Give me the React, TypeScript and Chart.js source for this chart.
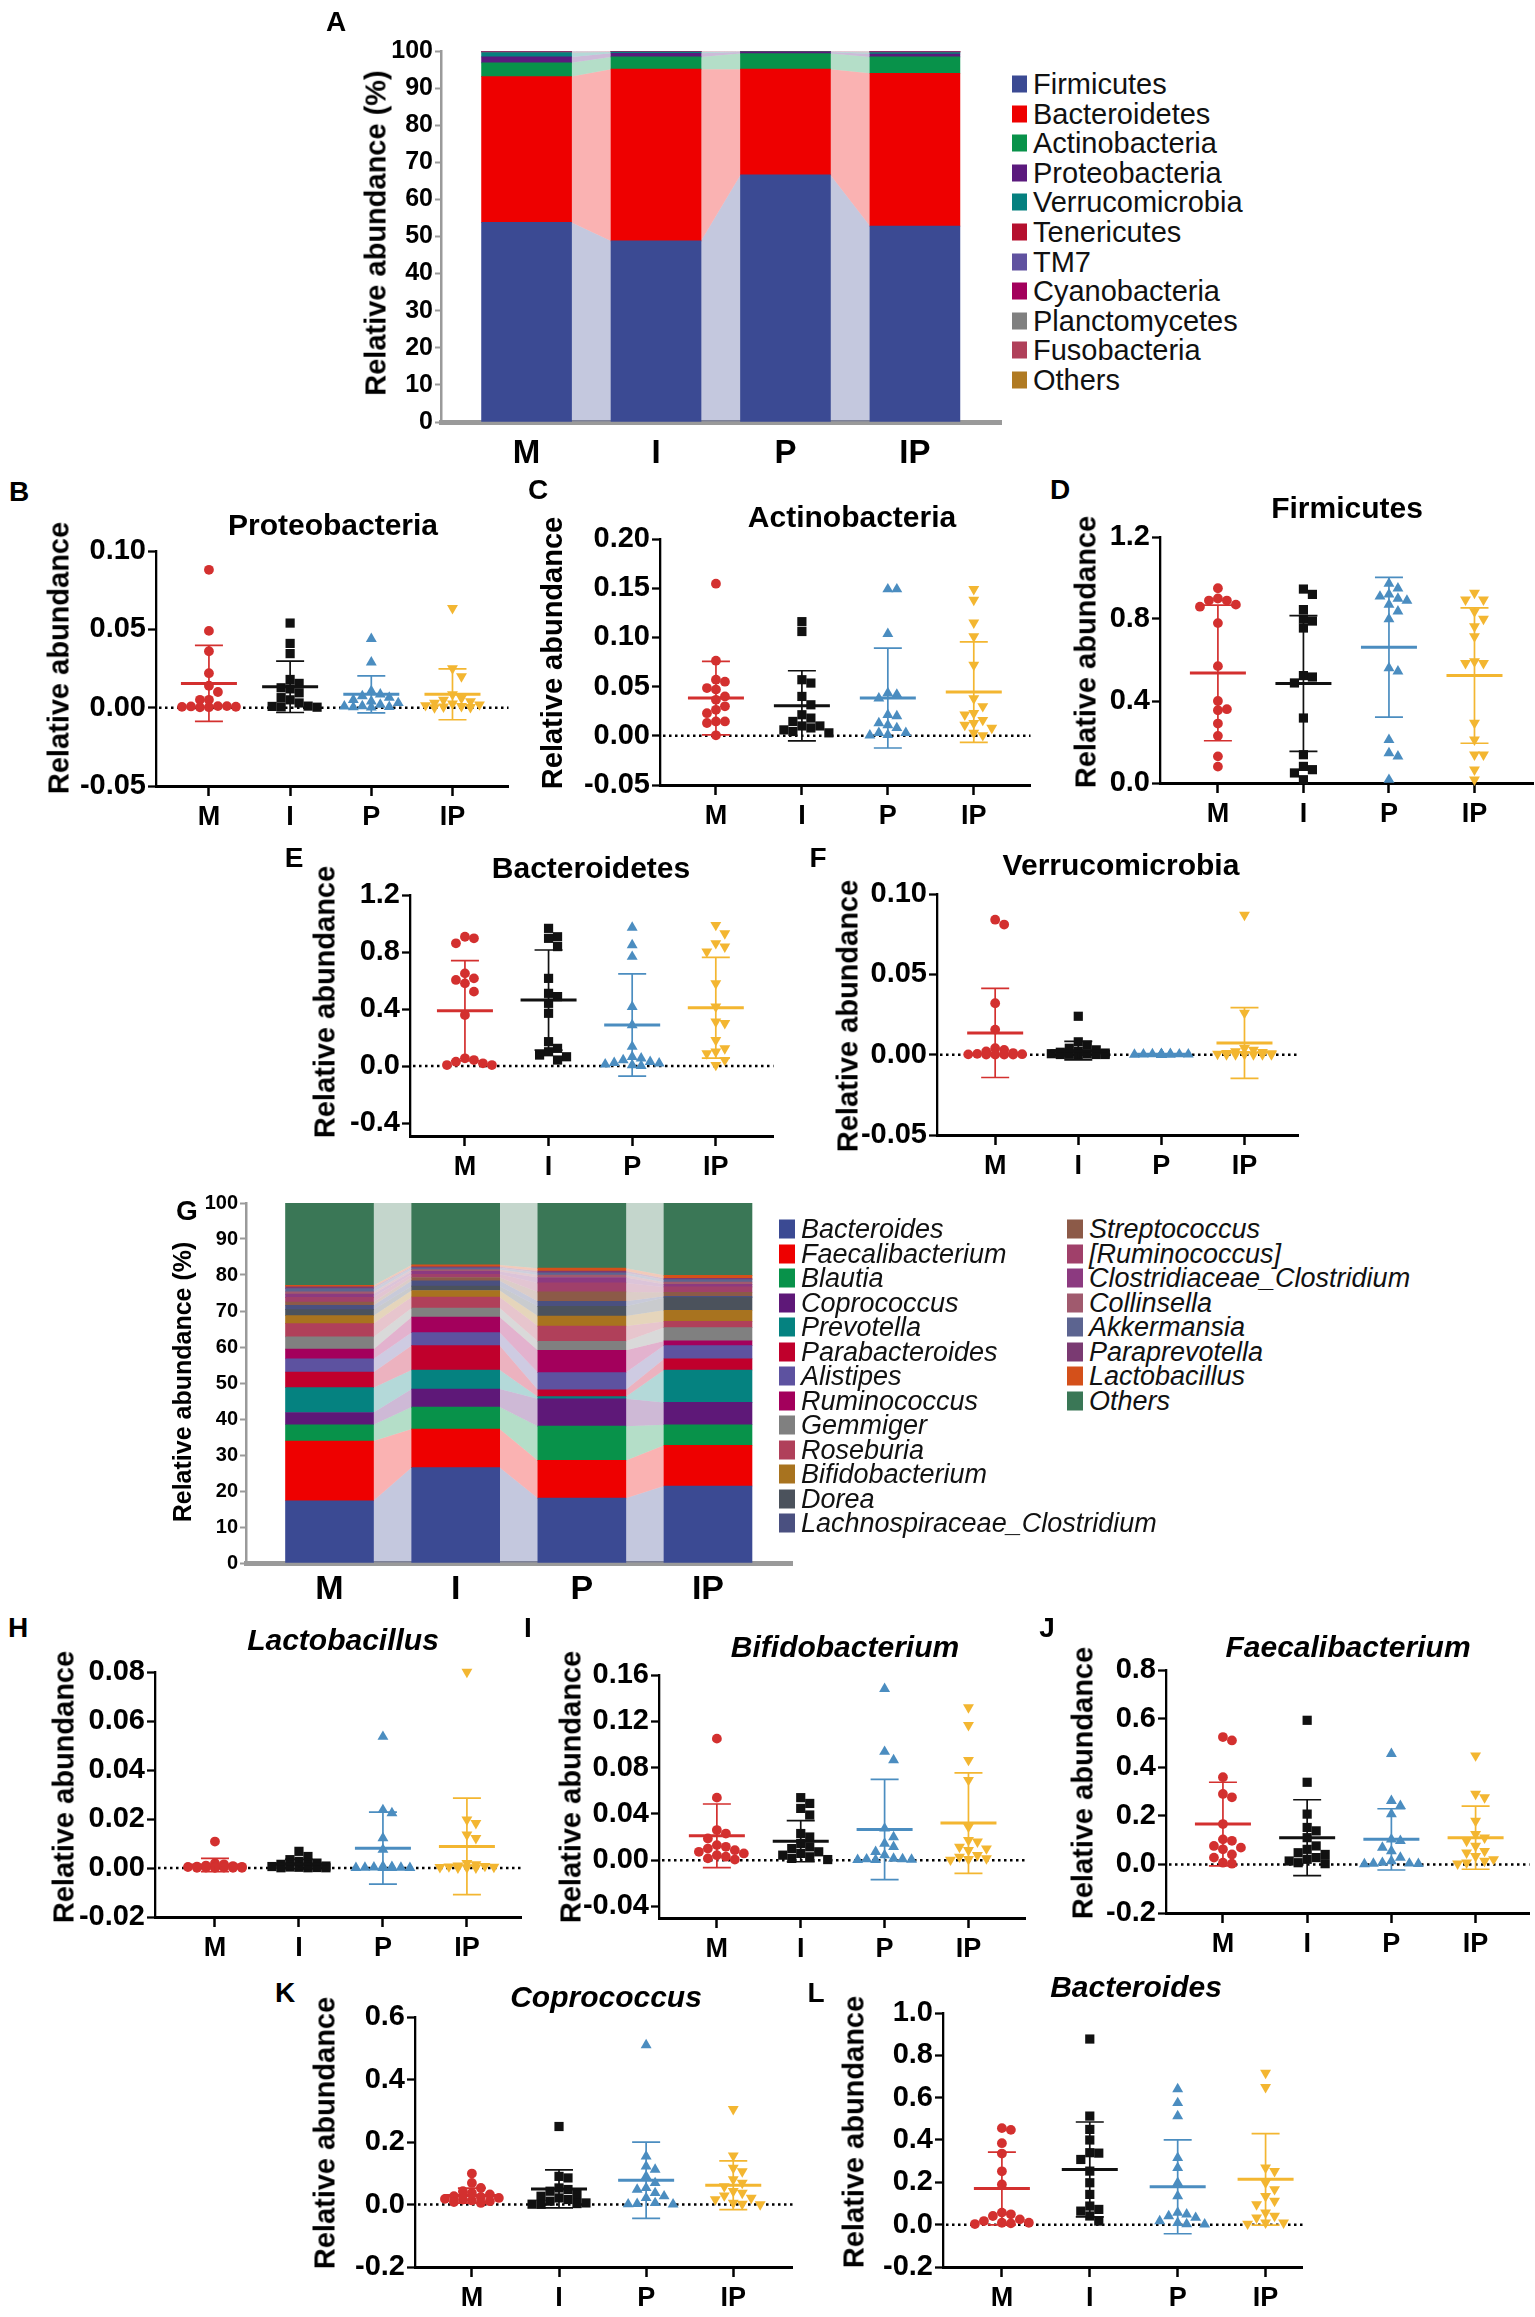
import React, { useEffect, useRef } from 'react';
import { Chart, registerables } from 'chart.js';
Chart.register(...registerables);

const FONT = "'Liberation Sans', Arial, Helvetica, sans-serif";
const NARROW = "'Liberation Sans Narrow', 'Liberation Sans', Arial, sans-serif";
const GROUPS = ['M', 'I', 'P', 'IP'];
const GROUP_COLORS = ['#d3302f', '#111111', '#4b8dc0', '#f3b631'];
const GROUP_STYLES = ['circle', 'rect', 'triangle', 'triangle'];
const GROUP_ROT = [0, 0, 0, 180];
const GROUP_RADIUS = [4.9, 6.5, 6.3, 6.3];

// ---------- Panel A: phylum composition (%) ----------
const A_PHYLA = ['Firmicutes', 'Bacteroidetes', 'Actinobacteria', 'Proteobacteria', 'Verrucomicrobia', 'Tenericutes', 'TM7', 'Cyanobacteria', 'Planctomycetes', 'Fusobacteria', 'Others'];
const A_COLORS = ['#3b4a93', '#ee0000', '#08924a', '#5b1a7d', '#05807f', '#b5102f', '#6052a0', '#a3005c', '#808080', '#b0405a', '#b07a22'];
const A_M = [53.8, 39.3, 3.7, 1.6, 1.2, 0.2, 0.1, 0.05, 0.02, 0.02, 0.01];
const A_I = [48.8, 46.3, 3.3, 1.0, 0.3, 0.1, 0.05, 0.05, 0.03, 0.02, 0.05];
const A_P = [66.6, 28.5, 4.2, 0.4, 0.1, 0.05, 0.05, 0.03, 0.03, 0.02, 0.02];
const A_IP = [52.8, 41.2, 4.4, 0.8, 0.4, 0.1, 0.1, 0.05, 0.05, 0.05, 0.05];

// ---------- Panel G: genus composition (%) ----------
const G_GENERA = ['Bacteroides', 'Faecalibacterium', 'Blautia', 'Coprococcus', 'Prevotella', 'Parabacteroides', 'Alistipes', 'Ruminococcus', 'Gemmiger', 'Roseburia', 'Bifidobacterium', 'Dorea', 'Lachnospiraceae_Clostridium', 'Streptococcus', '[Ruminococcus]', 'Clostridiaceae_Clostridium', 'Collinsella', 'Akkermansia', 'Paraprevotella', 'Lactobacillus', 'Others'];
const G_COLORS = ['#3b4a93', '#ee0000', '#08924a', '#5e1878', '#058280', '#c0002c', '#5d52a0', '#a3005c', '#808080', '#b0405a', '#a8731f', '#4b525c', '#4a5080', '#8c5a48', '#a0406a', '#8c3a80', '#a05a6e', '#5c6490', '#7a3a72', '#d4501a', '#3a7756'];
const G_M = [17.3, 16.6, 4.5, 3.4, 6.9, 4.3, 3.7, 2.7, 3.4, 3.7, 2.2, 1.7, 1.2, 0.9, 1.3, 0.9, 0.6, 0.9, 0.5, 0.4, 22.9];
const G_I = [26.5, 10.7, 6.1, 5.0, 5.3, 6.8, 3.6, 4.3, 2.5, 3.1, 1.8, 1.2, 1.5, 0.9, 0.9, 0.8, 0.5, 0.5, 0.3, 0.5, 17.2];
const G_P = [18.0, 10.5, 9.5, 7.6, 0.6, 1.9, 4.8, 6.2, 2.5, 4.2, 2.8, 2.7, 1.4, 2.6, 2.5, 1.5, 0.7, 0.6, 0.5, 0.8, 18.1];
const G_IP = [21.4, 11.3, 5.7, 6.2, 9.0, 3.1, 3.7, 1.3, 3.7, 1.7, 3.1, 3.5, 0.4, 1.1, 1.5, 0.7, 0.6, 0.7, 0.4, 0.8, 20.1];
const PCT_TICKS = [0, 10, 20, 30, 40, 50, 60, 70, 80, 90, 100];

// ---------- B: Proteobacteria ----------
const PROTEO_M = [0.088, 0.049, 0.036, 0.022, 0.014, 0.010, 0.005, 0.005, 0.001, 0.001, 0.0008, 0.0006, 0.0005, 0.0003, 0.0002];
const PROTEO_I = [0.054, 0.041, 0.0345, 0.018, 0.0155, 0.0127, 0.012, 0.0095, 0.0064, 0.005, 0.003, 0.001, 0.0008, 0.0005, 0.0003];
const PROTEO_P = [0.044, 0.029, 0.0106, 0.0085, 0.0074, 0.0064, 0.005, 0.004, 0.003, 0.002, 0.001, 0.0008, 0.0005, 0.0003, 0.0002];
const PROTEO_IP = [0.0635, 0.025, 0.020, 0.0085, 0.006, 0.005, 0.004, 0.003, 0.0025, 0.002, 0.0015, 0.001, 0.0006, 0.0003, 0.0002];
const PROTEO_MEAN = [0.0155, 0.0133, 0.0085, 0.0085];
const PROTEO_SD = [0.0242, 0.0164, 0.0118, 0.0162];
const PROTEO_TICKS = [-0.05, 0, 0.05, 0.10];

// ---------- C: Actinobacteria ----------
const ACTINO_M = [0.1546, 0.0763, 0.057, 0.055, 0.0485, 0.047, 0.040, 0.0366, 0.030, 0.0264, 0.023, 0.0146, 0.0146, 0.013, 0.0005];
const ACTINO_I = [0.116, 0.106, 0.057, 0.0536, 0.040, 0.0315, 0.0214, 0.018, 0.0146, 0.010, 0.010, 0.008, 0.006, 0.0044, 0.003];
const ACTINO_P = [0.149, 0.149, 0.1037, 0.0434, 0.042, 0.038, 0.0214, 0.020, 0.0129, 0.011, 0.008, 0.003, 0.003, 0.001, 0.0005];
const ACTINO_IP = [0.149, 0.138, 0.115, 0.101, 0.072, 0.038, 0.030, 0.023, 0.0214, 0.016, 0.0129, 0.011, 0.008, 0.003, 0.0005];
const ACTINO_MEAN = [0.0383, 0.0305, 0.0383, 0.0444];
const ACTINO_SD = [0.0373, 0.0356, 0.0507, 0.051];
const ACTINO_TICKS = [-0.05, 0, 0.05, 0.10, 0.15, 0.20];

// ---------- D: Firmicutes ----------
const FIRMI_M = [0.95, 0.90, 0.89, 0.89, 0.87, 0.86, 0.78, 0.57, 0.40, 0.36, 0.355, 0.29, 0.23, 0.13, 0.08];
const FIRMI_I = [0.946, 0.92, 0.846, 0.80, 0.79, 0.756, 0.524, 0.517, 0.488, 0.317, 0.138, 0.081, 0.065, 0.049, 0.016];
const FIRMI_P = [0.973, 0.95, 0.92, 0.91, 0.90, 0.89, 0.87, 0.837, 0.80, 0.561, 0.545, 0.211, 0.146, 0.13, 0.016];
const FIRMI_IP = [0.927, 0.894, 0.894, 0.837, 0.80, 0.764, 0.715, 0.593, 0.585, 0.585, 0.293, 0.211, 0.138, 0.138, 0.065, 0.016];
const FIRMI_MEAN = [0.537, 0.485, 0.662, 0.524];
const FIRMI_SD = [0.331, 0.331, 0.341, 0.33];
const FIRMI_TICKS = [0, 0.4, 0.8, 1.2];

// ---------- E: Bacteroidetes ----------
const BACTE_M = [0.907, 0.896, 0.861, 0.650, 0.615, 0.604, 0.580, 0.522, 0.358, 0.054, 0.042, 0.030, 0.019, 0.007, 0.007];
const BACTE_I = [0.966, 0.907, 0.896, 0.838, 0.615, 0.51, 0.487, 0.44, 0.37, 0.171, 0.124, 0.10, 0.077, 0.065, 0.042];
const BACTE_P = [0.971, 0.849, 0.767, 0.416, 0.288, 0.136, 0.065, 0.054, 0.042, 0.030, 0.023, 0.019, 0.012, 0.007, 0.002];
const BACTE_IP = [0.989, 0.931, 0.861, 0.838, 0.802, 0.580, 0.416, 0.311, 0.30, 0.182, 0.124, 0.10, 0.089, 0.042, 0.007];
const BACTE_MEAN = [0.388, 0.463, 0.288, 0.409];
const BACTE_SD = [0.351, 0.351, 0.359, 0.354];
const BACTE_TICKS = [-0.4, 0, 0.4, 0.8, 1.2];

// ---------- F: Verrucomicrobia ----------
const VERRU_M = [0.084, 0.081, 0.032, 0.0156, 0.004, 0.003, 0.002, 0.001, 0.0005, 0.0003, 0.0002, 0.0001, 0.0001, 0.0001, 0.0001];
const VERRU_I = [0.0239, 0.008, 0.006, 0.004, 0.003, 0.002, 0.0015, 0.001, 0.0006, 0.0004, 0.0002, 0.0001, 0.0001, 0.0001, 0.0001];
const VERRU_P = [0.0006, 0.0005, 0.0004, 0.0003, 0.0002, 0.0002, 0.0001, 0.0001, 0.0001, 0.0001, 0.0001, 0.0001, 0.0001, 0.0001, 0.0001];
const VERRU_IP = [0.087, 0.026, 0.004, 0.003, 0.002, 0.0015, 0.001, 0.0008, 0.0005, 0.0003, 0.0002, 0.0001, 0.0001, 0.0001, 0.0001];
const VERRU_MEAN = [0.0135, 0.0025, 0.0002, 0.0073];
const VERRU_SD = [0.0277, 0.0058, 0.0002, 0.022];
const VERRU_TICKS = [-0.05, 0, 0.05, 0.10];

// ---------- H: Lactobacillus ----------
const LACTO_M = [0.0108, 0.002, 0.0015, 0.001, 0.0008, 0.0006, 0.0005, 0.0004, 0.0003, 0.0002, 0.0002, 0.0001, 0.0001, 0.0001, 0.0001];
const LACTO_I = [0.0068, 0.0047, 0.0034, 0.0027, 0.002, 0.0015, 0.001, 0.0008, 0.0006, 0.0004, 0.0003, 0.0002, 0.0001, 0.0001, 0.0001];
const LACTO_P = [0.0536, 0.0237, 0.0224, 0.0122, 0.0075, 0.0007, 0.0005, 0.0003, 0.0002, 0.0002, 0.0001, 0.0001, 0.0001, 0.0001, 0.0001];
const LACTO_IP = [0.080, 0.0197, 0.0183, 0.0136, 0.0122, 0.002, 0.0015, 0.001, 0.0008, 0.0006, 0.0004, 0.0003, 0.0002, 0.0001, 0.0001];
const LACTO_MEAN = [0.0012, 0.0016, 0.0081, 0.0088];
const LACTO_SD = [0.0027, 0.0019, 0.0147, 0.0197];
const LACTO_TICKS = [-0.02, 0, 0.02, 0.04, 0.06, 0.08];

// ---------- I: Bifidobacterium ----------
const BIFIDO_M = [0.105, 0.054, 0.026, 0.023, 0.0187, 0.013, 0.0115, 0.010, 0.0086, 0.0072, 0.0058, 0.0043, 0.003, 0.0015, 0.0005];
const BIFIDO_I = [0.054, 0.049, 0.0447, 0.039, 0.023, 0.020, 0.0144, 0.0115, 0.010, 0.0072, 0.0058, 0.0043, 0.0029, 0.0015, 0.0005];
const BIFIDO_P = [0.148, 0.0937, 0.0865, 0.0274, 0.020, 0.0144, 0.0115, 0.0072, 0.0043, 0.0014, 0.001, 0.0008, 0.0005, 0.0003, 0.0002];
const BIFIDO_IP = [0.132, 0.1167, 0.0865, 0.0692, 0.0288, 0.0173, 0.0159, 0.0115, 0.010, 0.0086, 0.0043, 0.0029, 0.0014, 0.0008, 0.0003];
const BIFIDO_MEAN = [0.021, 0.0164, 0.0265, 0.032];
const BIFIDO_SD = [0.0275, 0.0178, 0.0433, 0.0434];
const BIFIDO_TICKS = [-0.04, 0, 0.04, 0.08, 0.12, 0.16];

// ---------- J: Faecalibacterium ----------
const FAECALI_M = [0.524, 0.510, 0.359, 0.29, 0.276, 0.166, 0.103, 0.097, 0.076, 0.069, 0.062, 0.041, 0.028, 0.007, 0.003];
const FAECALI_I = [0.593, 0.338, 0.207, 0.152, 0.138, 0.11, 0.076, 0.062, 0.048, 0.041, 0.028, 0.021, 0.014, 0.007, 0.003];
const FAECALI_P = [0.455, 0.262, 0.241, 0.207, 0.103, 0.097, 0.069, 0.055, 0.028, 0.014, 0.007, 0.004, 0.003, 0.002, 0.001];
const FAECALI_IP = [0.448, 0.29, 0.276, 0.179, 0.124, 0.11, 0.097, 0.076, 0.055, 0.048, 0.034, 0.021, 0.014, 0.007, 0.003];
const FAECALI_MEAN = [0.166, 0.11, 0.103, 0.11];
const FAECALI_SD = [0.172, 0.156, 0.126, 0.13];
const FAECALI_TICKS = [-0.2, 0, 0.2, 0.4, 0.6, 0.8];

// ---------- K: Coprococcus ----------
const COPRO_M = [0.099, 0.069, 0.053, 0.0425, 0.037, 0.032, 0.0265, 0.024, 0.021, 0.018, 0.016, 0.013, 0.0106, 0.008, 0.005];
const COPRO_I = [0.2496, 0.090, 0.085, 0.053, 0.048, 0.0425, 0.032, 0.0265, 0.021, 0.016, 0.0106, 0.005, 0.003, 0.001, 0.0005];
const COPRO_P = [0.51, 0.154, 0.122, 0.1115, 0.09, 0.069, 0.053, 0.048, 0.037, 0.0265, 0.021, 0.005, 0.002, 0.001, 0.0005];
const COPRO_IP = [0.305, 0.156, 0.117, 0.106, 0.080, 0.069, 0.058, 0.0425, 0.037, 0.0287, 0.021, 0.016, 0.005, 0.002, 0.0005];
const COPRO_MEAN = [0.0287, 0.05, 0.0775, 0.0616];
const COPRO_SD = [0.024, 0.061, 0.122, 0.078];
const COPRO_TICKS = [-0.2, 0, 0.2, 0.4, 0.6];

// ---------- L: Bacteroides ----------
const BACTEROIDES_M = [0.456, 0.448, 0.385, 0.336, 0.252, 0.19, 0.057, 0.049, 0.041, 0.025, 0.017, 0.009, 0.009, 0.006, 0.003];
const BACTEROIDES_I = [0.877, 0.513, 0.45, 0.40, 0.34, 0.338, 0.308, 0.253, 0.198, 0.143, 0.088, 0.072, 0.064, 0.041, 0.017];
const BACTEROIDES_P = [0.641, 0.575, 0.513, 0.316, 0.269, 0.198, 0.135, 0.057, 0.049, 0.041, 0.033, 0.017, 0.009, 0.003, 0.002];
const BACTEROIDES_IP = [0.717, 0.65, 0.269, 0.253, 0.198, 0.167, 0.135, 0.112, 0.096, 0.057, 0.041, 0.033, 0.009, 0.004, 0.009];
const BACTEROIDES_MEAN = [0.171, 0.261, 0.179, 0.214];
const BACTEROIDES_SD = [0.172, 0.224, 0.222, 0.216];
const BACTEROIDES_TICKS = [-0.2, 0, 0.2, 0.4, 0.6, 0.8, 1.0];

// ---------- layout ----------
const YW = 115; // y-axis box width (px)
const PAD_TOP = 25;
const XH = 60; // x-axis box height

type ScatterPanel = {
  letter: string; lx: number; ly: number;
  title: string; italic: boolean; tx: number; ty: number;
  yx: number; yy: number;
  groups: number[][]; mean: number[]; sd: number[];
  ticks: number[]; dec: number; yMin: number; yMax: number;
  axisX: number; s: number; xMin: number; xMax: number; top: number; bottom: number;
};

const SCATTER: ScatterPanel[] = [
  { letter: 'B', lx: 19, ly: 492, title: 'Proteobacteria', italic: false, tx: 333, ty: 525, yx: 59, yy: 658,
    groups: [PROTEO_M, PROTEO_I, PROTEO_P, PROTEO_IP], mean: PROTEO_MEAN, sd: PROTEO_SD, ticks: PROTEO_TICKS, dec: 2, yMin: -0.05, yMax: 0.10,
    axisX: 156, s: 81.3, xMin: 0.348, xMax: 4.69, top: 551, bottom: 786 },
  { letter: 'C', lx: 538, ly: 490, title: 'Actinobacteria', italic: false, tx: 852, ty: 517, yx: 552, yy: 653,
    groups: [ACTINO_M, ACTINO_I, ACTINO_P, ACTINO_IP], mean: ACTINO_MEAN, sd: ACTINO_SD, ticks: ACTINO_TICKS, dec: 2, yMin: -0.05, yMax: 0.20,
    axisX: 660, s: 86, xMin: 0.349, xMax: 4.66, top: 539, bottom: 785 },
  { letter: 'D', lx: 1060, ly: 490, title: 'Firmicutes', italic: false, tx: 1347, ty: 508, yx: 1086, yy: 652,
    groups: [FIRMI_M, FIRMI_I, FIRMI_P, FIRMI_IP], mean: FIRMI_MEAN, sd: FIRMI_SD, ticks: FIRMI_TICKS, dec: 1, yMin: 0, yMax: 1.2,
    axisX: 1160, s: 85.7, xMin: 0.323, xMax: 4.69, top: 537, bottom: 783 },
  { letter: 'E', lx: 294, ly: 858, title: 'Bacteroidetes', italic: false, tx: 591, ty: 868, yx: 325, yy: 1002,
    groups: [BACTE_M, BACTE_I, BACTE_P, BACTE_IP], mean: BACTE_MEAN, sd: BACTE_SD, ticks: BACTE_TICKS, dec: 1, yMin: -0.491, yMax: 1.2,
    axisX: 410, s: 83.7, xMin: 0.343, xMax: 4.69, top: 895, bottom: 1136 },
  { letter: 'F', lx: 818, ly: 858, title: 'Verrucomicrobia', italic: false, tx: 1121, ty: 865, yx: 848, yy: 1016,
    groups: [VERRU_M, VERRU_I, VERRU_P, VERRU_IP], mean: VERRU_MEAN, sd: VERRU_SD, ticks: VERRU_TICKS, dec: 2, yMin: -0.05, yMax: 0.10,
    axisX: 937, s: 83.3, xMin: 0.30, xMax: 4.65, top: 894, bottom: 1135 },
  { letter: 'H', lx: 18, ly: 1628, title: 'Lactobacillus', italic: true, tx: 343, ty: 1640, yx: 64, yy: 1787,
    groups: [LACTO_M, LACTO_I, LACTO_P, LACTO_IP], mean: LACTO_MEAN, sd: LACTO_SD, ticks: LACTO_TICKS, dec: 2, yMin: -0.02, yMax: 0.08,
    axisX: 155, s: 84, xMin: 0.286, xMax: 4.65, top: 1672, bottom: 1917 },
  { letter: 'I', lx: 528, ly: 1628, title: 'Bifidobacterium', italic: true, tx: 845, ty: 1647, yx: 571, yy: 1787,
    groups: [BIFIDO_M, BIFIDO_I, BIFIDO_P, BIFIDO_IP], mean: BIFIDO_MEAN, sd: BIFIDO_SD, ticks: BIFIDO_TICKS, dec: 2, yMin: -0.05, yMax: 0.16,
    axisX: 659, s: 84, xMin: 0.31, xMax: 4.68, top: 1675, bottom: 1918 },
  { letter: 'J', lx: 1047, ly: 1628, title: 'Faecalibacterium', italic: true, tx: 1348, ty: 1647, yx: 1083, yy: 1783,
    groups: [FAECALI_M, FAECALI_I, FAECALI_P, FAECALI_IP], mean: FAECALI_MEAN, sd: FAECALI_SD, ticks: FAECALI_TICKS, dec: 1, yMin: -0.2, yMax: 0.8,
    axisX: 1166, s: 84.3, xMin: 0.324, xMax: 4.64, top: 1670, bottom: 1913 },
  { letter: 'K', lx: 285, ly: 1993, title: 'Coprococcus', italic: true, tx: 606, ty: 1997, yx: 325, yy: 2133,
    groups: [COPRO_M, COPRO_I, COPRO_P, COPRO_IP], mean: COPRO_MEAN, sd: COPRO_SD, ticks: COPRO_TICKS, dec: 1, yMin: -0.2, yMax: 0.6,
    axisX: 415, s: 87.3, xMin: 0.347, xMax: 4.68, top: 2017, bottom: 2267 },
  { letter: 'L', lx: 816, ly: 1993, title: 'Bacteroides', italic: true, tx: 1136, ty: 1987, yx: 854, yy: 2132,
    groups: [BACTEROIDES_M, BACTEROIDES_I, BACTEROIDES_P, BACTEROIDES_IP], mean: BACTEROIDES_MEAN, sd: BACTEROIDES_SD, ticks: BACTEROIDES_TICKS, dec: 1, yMin: -0.2, yMax: 1.0,
    axisX: 943, s: 88, xMin: 0.33, xMax: 4.42, top: 2013, bottom: 2267 },
];

type BarPanel = {
  taxa: string[]; colors: string[]; groups: number[][];
  axisX: number; s: number; xMin: number; xMax: number; top: number; bottom: number;
  barW: number; tickFont: number; catFont: number; catPad: number;
};

const BAR_A: BarPanel = { taxa: A_PHYLA, colors: A_COLORS, groups: [A_M, A_I, A_P, A_IP],
  axisX: 441, s: 129.5, xMin: 0.339, xMax: 4.665, top: 51, bottom: 422, barW: 90, tickFont: 25, catFont: 33, catPad: 4 };
const BAR_G: BarPanel = { taxa: G_GENERA, colors: G_COLORS, groups: [G_M, G_I, G_P, G_IP],
  axisX: 246, s: 126.2, xMin: 0.338, xMax: 4.666, top: 1203, bottom: 1563, barW: 88, tickFont: 20, catFont: 34, catPad: -2 };

function boxOf(p: { axisX: number; s: number; xMin: number; xMax: number; top: number; bottom: number }) {
  const left = p.axisX - YW;
  const top = p.top - PAD_TOP;
  const width = Math.round(YW + (p.xMax - p.xMin) * p.s + 6);
  const height = Math.round(PAD_TOP + (p.bottom - p.top) + XH);
  return { left, top, width, height };
}

function hexA(hex: string, a: number) {
  const n = parseInt(hex.slice(1), 16);
  return `rgba(${(n >> 16) & 255},${(n >> 8) & 255},${n & 255},${a})`;
}

// beeswarm-like horizontal spreading, computed in pixel space from the values
function swarmOffsets(values: number[], yMin: number, yMax: number, hPx: number, sPx: number): number[] {
  const d = 9;
  const step = 9;
  const ks = [0, 1, -1, 2, -2, 3, -3];
  const idx = values.map((_v, i) => i).sort((a, b) => values[b] - values[a]);
  const placed: { px: number; py: number }[] = [];
  const offs = new Array(values.length).fill(0);
  for (const i of idx) {
    const py = ((values[i] - yMin) / (yMax - yMin)) * hPx;
    let best = 0;
    let bestScore = -1;
    for (const k of ks) {
      const px = k * step;
      let minD = Infinity;
      for (const q of placed) {
        const dd = Math.hypot(px - q.px, py - q.py);
        if (dd < minD) minD = dd;
      }
      if (minD >= d) { best = px; bestScore = Infinity; break; }
      if (minD > bestScore + 0.5) { bestScore = minD; best = px; }
    }
    placed.push({ px: best, py });
    offs[i] = best / sPx;
  }
  return offs;
}

const catAxis = (p: { xMin: number; xMax: number }, font: any, pad: number, gridOpts: any, borderOpts: any) => ({
  type: 'linear',
  min: p.xMin,
  max: p.xMax,
  offset: false,
  afterBuildTicks: (sc: any) => { sc.ticks = [1, 2, 3, 4].map((v) => ({ value: v })); },
  afterFit: (sc: any) => { sc.height = XH; },
  ticks: { callback: (_v: any, i: number) => GROUPS[i], font, color: '#000', padding: pad, maxRotation: 0, autoSkip: false },
  grid: { offset: false, ...gridOpts },
  border: borderOpts,
});

function makeScatter(canvas: HTMLCanvasElement, p: ScatterPanel) {
  const plotH = p.bottom - p.top;
  const datasets = p.groups.map((vals, g) => {
    const offs = swarmOffsets(vals, p.yMin, p.yMax, plotH, p.s);
    return {
      label: GROUPS[g],
      data: vals.map((v, i) => ({ x: g + 1 + offs[i], y: v })),
      pointStyle: GROUP_STYLES[g],
      rotation: GROUP_ROT[g],
      pointRadius: GROUP_RADIUS[g],
      backgroundColor: GROUP_COLORS[g],
      borderColor: GROUP_COLORS[g],
      borderWidth: 0,
      clip: false,
    };
  });
  const zeroLine = {
    id: 'zeroLine',
    beforeDatasetsDraw(chart: any) {
      const { ctx, chartArea, scales } = chart;
      if (p.yMin >= 0) return;
      const y0 = scales.y.getPixelForValue(0);
      ctx.save();
      ctx.strokeStyle = '#000';
      ctx.lineWidth = 2.5;
      ctx.setLineDash([2.5, 3.5]);
      ctx.beginPath();
      ctx.moveTo(chartArea.left + 3, y0);
      ctx.lineTo(chartArea.right, y0);
      ctx.stroke();
      ctx.restore();
    },
  };
  const stats = {
    id: 'stats',
    afterDatasetsDraw(chart: any) {
      const { ctx, scales } = chart;
      p.mean.forEach((m, g) => {
        const cx = scales.x.getPixelForValue(g + 1);
        const yc = scales.y.getPixelForValue(m);
        const yt = scales.y.getPixelForValue(m + p.sd[g]);
        const yb = scales.y.getPixelForValue(m - p.sd[g]);
        ctx.save();
        ctx.strokeStyle = GROUP_COLORS[g];
        ctx.lineWidth = 1.7;
        ctx.beginPath();
        ctx.moveTo(cx, yt); ctx.lineTo(cx, yb);
        ctx.moveTo(cx - 14, yt); ctx.lineTo(cx + 14, yt);
        ctx.moveTo(cx - 14, yb); ctx.lineTo(cx + 14, yb);
        ctx.stroke();
        ctx.lineWidth = 3;
        ctx.beginPath();
        ctx.moveTo(cx - 28, yc); ctx.lineTo(cx + 28, yc);
        ctx.stroke();
        ctx.restore();
      });
    },
  };
  return new Chart(canvas, {
    type: 'scatter',
    data: { datasets } as any,
    plugins: [zeroLine, stats],
    options: {
      animation: false,
      responsive: false,
      events: [],
      layout: { padding: { top: PAD_TOP, right: 6, left: 0, bottom: 0 } },
      plugins: { legend: { display: false }, tooltip: { enabled: false }, title: { display: false } },
      scales: {
        x: catAxis(p, { family: FONT, size: 27, weight: 'bold' }, 5,
          { display: true, drawOnChartArea: false, drawTicks: true, tickLength: 10, tickWidth: 2.5, color: '#000' },
          { display: true, color: '#000', width: 3 }) as any,
        y: {
          type: 'linear',
          min: p.yMin,
          max: p.yMax,
          afterBuildTicks: (sc: any) => { sc.ticks = p.ticks.map((v) => ({ value: v })); },
          afterFit: (sc: any) => { sc.width = YW; },
          ticks: { callback: (v: any) => Number(v).toFixed(p.dec), font: { family: FONT, size: 29, weight: 'bold' }, color: '#000', padding: 2 },
          grid: { display: true, drawOnChartArea: false, drawTicks: true, tickLength: 8, tickWidth: 2.3, color: '#000' },
          border: { display: true, color: '#000', width: 2.3 },
        } as any,
      },
    },
  });
}

function makeBars(canvas: HTMLCanvasElement, p: BarPanel) {
  const datasets = p.taxa.map((name, t) => ({
    label: name,
    data: p.groups.map((vals, g) => ({ x: g + 1, y: vals[t] })),
    backgroundColor: p.colors[t],
    borderWidth: 0,
    barThickness: p.barW,
    stack: 'all',
  }));
  const bands = {
    id: 'bands',
    beforeDatasetsDraw(chart: any) {
      const { ctx, chartArea } = chart;
      ctx.save();
      ctx.beginPath();
      ctx.rect(chartArea.left, chartArea.top, chartArea.right - chartArea.left, chartArea.bottom - chartArea.top);
      ctx.clip();
      chart.data.datasets.forEach((_ds: any, di: number) => {
        const els = chart.getDatasetMeta(di).data;
        ctx.fillStyle = hexA(p.colors[di], 0.3);
        for (let i = 0; i < els.length - 1; i++) {
          const a = els[i].getProps(['x', 'y', 'base', 'width'], true);
          const b = els[i + 1].getProps(['x', 'y', 'base', 'width'], true);
          ctx.beginPath();
          ctx.moveTo(a.x + a.width / 2, a.y);
          ctx.lineTo(b.x - b.width / 2, b.y);
          ctx.lineTo(b.x - b.width / 2, b.base);
          ctx.lineTo(a.x + a.width / 2, a.base);
          ctx.closePath();
          ctx.fill();
        }
      });
      ctx.restore();
    },
  };
  return new Chart(canvas, {
    type: 'bar',
    data: { datasets } as any,
    plugins: [bands],
    options: {
      animation: false,
      responsive: false,
      events: [],
      layout: { padding: { top: PAD_TOP, right: 6, left: 0, bottom: 0 } },
      plugins: { legend: { display: false }, tooltip: { enabled: false }, title: { display: false } },
      scales: {
        x: { ...catAxis(p, { family: NARROW, size: p.catFont, weight: 'bold' }, p.catPad,
          { display: false },
          { display: true, color: '#9a9a9a', width: 5 }), stacked: true } as any,
        y: {
          type: 'linear',
          stacked: true,
          min: 0,
          max: 100,
          afterBuildTicks: (sc: any) => { sc.ticks = PCT_TICKS.map((v) => ({ value: v })); },
          afterFit: (sc: any) => { sc.width = YW; },
          ticks: { font: { family: FONT, size: p.tickFont, weight: 'bold' }, color: '#000', padding: 2 },
          grid: { display: true, drawOnChartArea: false, drawTicks: true, tickLength: 6, tickWidth: 2, color: '#9a9a9a' },
          border: { display: true, color: '#9a9a9a', width: 2.5 },
        } as any,
      },
    },
  });
}

const abs = (x: number, y: number, extra: React.CSSProperties = {}): React.CSSProperties => ({
  position: 'absolute', left: x, top: y, transform: 'translate(-50%,-50%)', whiteSpace: 'nowrap', fontFamily: FONT, color: '#000', lineHeight: 1, ...extra,
});

function Legend({ names, colors, x, y0, dy, sq, font, italic }: { names: string[]; colors: string[]; x: number; y0: number; dy: number; sq: [number, number]; font: number; italic: boolean }) {
  return (
    <>
      {names.map((n, i) => (
        <div key={n} style={{ position: 'absolute', left: x, top: y0 + i * dy, transform: 'translateY(-50%)', display: 'flex', alignItems: 'center', whiteSpace: 'nowrap', fontFamily: FONT, fontSize: font, fontStyle: italic ? 'italic' : 'normal', color: '#111', lineHeight: 1 }}>
          <span style={{ display: 'inline-block', width: sq[0], height: sq[1], background: colors[i], marginRight: 6 }} />
          <span>{n}</span>
        </div>
      ))}
    </>
  );
}

export default function App() {
  const refs = useRef<(HTMLCanvasElement | null)[]>([]);
  const boxA = boxOf(BAR_A);
  const boxG = boxOf(BAR_G);
  const scatterBoxes = SCATTER.map(boxOf);

  useEffect(() => {
    const charts: Chart[] = [];
    const cA = refs.current[0];
    const cG = refs.current[1];
    if (cA) charts.push(makeBars(cA, BAR_A));
    if (cG) charts.push(makeBars(cG, BAR_G));
    SCATTER.forEach((p, i) => {
      const c = refs.current[i + 2];
      if (c) charts.push(makeScatter(c, p));
    });
    return () => charts.forEach((c) => c.destroy());
  }, []);

  const canvasStyle = (b: { left: number; top: number; width: number; height: number }): React.CSSProperties => ({
    position: 'absolute', left: b.left, top: b.top, width: b.width, height: b.height,
  });

  const letter = { fontSize: 28, fontWeight: 'bold' as const };
  const yTitle = (size: number): React.CSSProperties => ({ fontSize: size, fontWeight: 'bold', transform: 'translate(-50%,-50%) rotate(-90deg)' });

  return (
    <div style={{ position: 'absolute', left: 0, top: 0, width: 1535, height: 2317, background: '#fff', overflow: 'hidden' }}>
      <canvas ref={(el) => { refs.current[0] = el; }} width={boxA.width} height={boxA.height} style={canvasStyle(boxA)} />
      <canvas ref={(el) => { refs.current[1] = el; }} width={boxG.width} height={boxG.height} style={canvasStyle(boxG)} />
      {SCATTER.map((p, i) => (
        <canvas key={p.letter} ref={(el) => { refs.current[i + 2] = el; }} width={scatterBoxes[i].width} height={scatterBoxes[i].height} style={canvasStyle(scatterBoxes[i])} />
      ))}

      {/* Panel A texts */}
      <div style={abs(336, 22, letter)}>A</div>
      <div style={abs(376, 233, yTitle(29))}>Relative abundance (%)</div>
      <Legend names={A_PHYLA} colors={A_COLORS} x={1012} y0={84} dy={29.6} sq={[15, 17]} font={29} italic={false} />

      {/* Panel G texts */}
      <div style={abs(187, 1211, letter)}>G</div>
      <div style={abs(182, 1382, yTitle(25))}>Relative abundance (%)</div>
      <Legend names={G_GENERA.slice(0, 13)} colors={G_COLORS.slice(0, 13)} x={779} y0={1229} dy={24.5} sq={[16, 19]} font={27} italic={true} />
      <Legend names={G_GENERA.slice(13)} colors={G_COLORS.slice(13)} x={1067} y0={1229} dy={24.5} sq={[16, 19]} font={27} italic={true} />

      {/* Scatter panel texts */}
      {SCATTER.map((p) => (
        <React.Fragment key={'t' + p.letter}>
          <div style={abs(p.lx, p.ly, letter)}>{p.letter}</div>
          <div style={abs(p.tx, p.ty, { fontSize: 30, fontWeight: 'bold', fontStyle: p.italic ? 'italic' : 'normal' })}>{p.title}</div>
          <div style={abs(p.yx, p.yy, yTitle(29))}>Relative abundance</div>
        </React.Fragment>
      ))}
    </div>
  );
}
